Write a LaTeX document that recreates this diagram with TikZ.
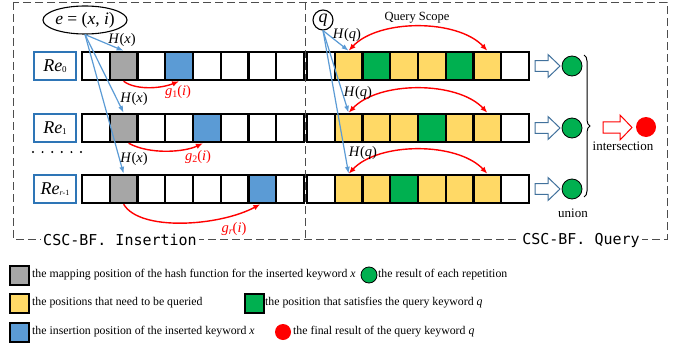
\documentclass[tikz,border=0pt]{standalone}
\usepackage{fontspec}
\setmainfont{Liberation Serif}
\newfontfamily\codefont{DejaVu Sans Mono}
\usetikzlibrary{arrows.meta,decorations.pathreplacing,shapes.geometric,calc}
\definecolor{cellgray}{HTML}{A6A6A6}
\definecolor{cellblue}{HTML}{5B9BD5}
\definecolor{cellyellow}{HTML}{FFD966}
\definecolor{cellgreen}{HTML}{00B050}
\definecolor{reblue}{HTML}{2E75B6}
\definecolor{hashblue}{HTML}{5B9BD5}
\definecolor{fatblue}{HTML}{41719C}
\definecolor{framegray}{HTML}{4D4D4D}
\begin{document}
\begin{tikzpicture}[x=1pt,y=-1pt,
  cell/.style={draw=black,line width=2.4pt,minimum width=27.75pt,minimum height=28pt,inner sep=0pt,fill=white},
  rebox/.style={draw=reblue,line width=2pt,minimum width=42pt,minimum height=28pt,inner sep=0pt,font=\fontsize{18}{18}\selectfont},
  hasharrow/.style={draw=hashblue,line width=1.2pt,-{Latex[length=7pt,width=5pt]}},
  redarrow/.style={draw=red,line width=1.4pt,-{Latex[length=7pt,width=5.5pt]}},
  scopearrow/.style={draw=red,line width=1.4pt,{Latex[length=7pt,width=5.5pt]}-{Latex[length=7pt,width=5.5pt]}},
  lab/.style={font=\fontsize{14.5}{14.5}\selectfont,inner sep=0pt},
  redlab/.style={lab,text=red},
  result/.style={circle,fill=cellgreen,draw=black,line width=0.8pt,minimum size=20pt,inner sep=0pt},
  fatarrow/.style={line width=1pt,fill=white,line join=miter},
  plain/.style={font=\fontsize{13}{13}\selectfont,inner sep=0pt},
  legtext/.style={anchor=west,font=\fontsize{11.8}{11.8}\selectfont,inner sep=0pt},
  legbox/.style={draw=black,line width=2pt,minimum size=19pt,inner sep=0pt},
  framelab/.style={fill=white,font=\codefont\fontsize{15}{15}\selectfont,inner sep=2pt},
  frameline/.style={draw=framegray,line width=0.9pt,dash pattern=on 8pt off 4pt},
]
\useasboundingbox (0,0) rectangle (690,345);

% dashed frame with its two panels
\draw[frameline] (13,2) rectangle (667,239);
\draw[frameline] (305.5,2) -- (305.5,239);
\node[framelab] (insl) at (120,240) {CSC-BF. Insertion};
\node[framelab] (qryl) at (581,240) {CSC-BF. Query};

% the r repetitions: left half (insertion) and right half (query)
\foreach \r/\yc/\bl/\cols in {
   0/66/3/{white,cellyellow,cellgreen,cellyellow,cellyellow,cellgreen,cellyellow,white},
   1/128/4/{white,cellyellow,cellyellow,cellyellow,cellgreen,cellyellow,cellyellow,white},
   2/189/6/{white,cellyellow,cellyellow,cellgreen,cellyellow,cellyellow,cellyellow,white}} {
  \foreach \i in {0,...,7}
    \node[cell] (L\r-\i) at ({82+27.75*\i+13.875},\yc) {};
  \node[cell,fill=cellgray] (L\r-1) at ({82+27.75+13.875},\yc) {};
  \node[cell,fill=cellblue] (L\r-\bl) at ({82+27.75*\bl+13.875},\yc) {};
  \foreach \c [count=\j from 0] in \cols
    \node[cell,fill=\c] (R\r-\j) at ({307+27.75*\j+13.875},\yc) {};
  % hollow arrow to the per-repetition result
  \draw[fatarrow,draw=fatblue] (535,\yc-5.3) -- (548,\yc-5.3) -- (548,\yc-11.5) -- (560,\yc)
     -- (548,\yc+11.5) -- (548,\yc+5.3) -- (535,\yc+5.3) -- cycle;
  \node[result] (res\r) at (572,\yc) {};
}

% repetition labels
\node[rebox] (Re0) at (55,66) {\textit{Re}\raisebox{-1.5pt}{\fontsize{9}{9}\selectfont 0}};
\node[rebox] (Re1) at (55,128) {\textit{Re}\raisebox{-1.5pt}{\fontsize{9}{9}\selectfont 1}};
\node[rebox] (Re2) at (55,189) {\textit{Re}\raisebox{-1.5pt}{\fontsize{8}{8}\selectfont\textit{r}-1}};
\foreach \k in {0,...,5}
  \fill (33+9.6*\k,152) circle (1.1pt);

% inserted element and queried keyword
\node[draw,ellipse,line width=1.1pt,minimum width=78pt,minimum height=28pt,inner sep=0pt,
      font=\fontsize{17.5}{17.5}\selectfont] (e) at (85,20) {\textit{e} = (\textit{x}, \textit{i})};
\node[draw,circle,line width=1.1pt,minimum size=20pt,inner sep=0pt,
      font=\fontsize{18}{18}\selectfont] (q) at (323,20) {\textit{q}};

% hash mapping for insertion
\foreach \r in {0,1,2}
  \draw[hasharrow] (e.south) -- (L\r-1.north);
\node[lab] (hx0) at (122,40) {\textit{H}(\textit{x})};
\node[lab] (hx1) at (134,99) {\textit{H}(\textit{x})};
\node[lab] (hx2) at (134,159) {\textit{H}(\textit{x})};

% offset functions g
\draw[redarrow] (L0-1.south) .. controls (135,90) and (160,89) .. (L0-3.south);
\draw[redarrow] ($(L1-1.south)+(5,0)$) .. controls (150,155) and (185,152) .. ($(L1-4.south)+(-4,0)$);
\draw[redarrow] (L2-1.south) .. controls (140,232) and (220,226) .. ($(L2-6.south)+(-2,0)$);
\node[redlab] (g1) at (178,92) {\textit{g}\raisebox{-2pt}{\fontsize{10}{10}\selectfont 1}(\textit{i})};
\node[redlab] (g2) at (198,157) {\textit{g}\raisebox{-2pt}{\fontsize{10}{10}\selectfont 2}(\textit{i})};
\node[redlab] (g3) at (234,229) {\textit{g}\raisebox{-2pt}{\fontsize{10}{10}\selectfont\textit{r}}(\textit{i})};

% hash mapping and query scope
\foreach \r in {0,1,2} {
  \draw[hasharrow] (q.south) -- (R\r-1.north);
  \draw[scopearrow] (R\r-1.north) .. controls ($(R\r-1.north)+(30,-32)$) and ($(R\r-6.north)+(-30,-32)$) .. (R\r-6.north);
}
\node[lab] (hq0) at (347,35) {\textit{H}(\textit{q})};
\node[lab] (hq1) at (358,93) {\textit{H}(\textit{q})};
\node[lab] (hq2) at (363,153) {\textit{H}(\textit{q})};
\node[font=\fontsize{12.5}{12.5}\selectfont,inner sep=0pt] (scope) at (417,18) {Query Scope};

% union of repetitions and final intersection
\draw[line width=1pt,decorate,decoration={brace,amplitude=6pt}] (584,55) -- (584,197);
\node[plain] (uni) at (573,213) {union};
\draw[fatarrow,draw=red] (603,121.8) -- (620,121.8) -- (620,115) -- (632,127.5)
   -- (620,140) -- (620,133.2) -- (603,133.2) -- cycle;
\node[circle,fill=red,minimum size=20pt,inner sep=0pt] (final) at (646,127) {};
\node[plain] (inter) at (623,146) {intersection};

% legend
\node[legbox,fill=cellgray] (k1) at (19,275) {};
\node[legtext] (t1) at (32,275) {the mapping position of the hash function for the inserted keyword \textit{x}};
\node[circle,fill=cellgreen,draw=black,line width=0.8pt,minimum size=16pt,inner sep=0pt] (k2) at (369,275) {};
\node[legtext] (t2) at (378,275) {the result of each repetition};
\node[legbox,fill=cellyellow] (k3) at (19,303) {};
\node[legtext] (t3) at (32,303) {the positions that need to be queried};
\node[legbox,fill=cellgreen] (k4) at (254,303) {};
\node[legtext] (t4) at (265,303) {the position that satisfies the query keyword \textit{q}};
\node[legbox,fill=cellblue] (k5) at (19,332) {};
\node[legtext] (t5) at (32,332) {the insertion position of the inserted keyword \textit{x}};
\node[circle,fill=red,minimum size=16pt,inner sep=0pt] (k6) at (283,332) {};
\node[legtext] (t6) at (293,332) {the final result of the query keyword \textit{q}};
\end{tikzpicture}
\end{document}
